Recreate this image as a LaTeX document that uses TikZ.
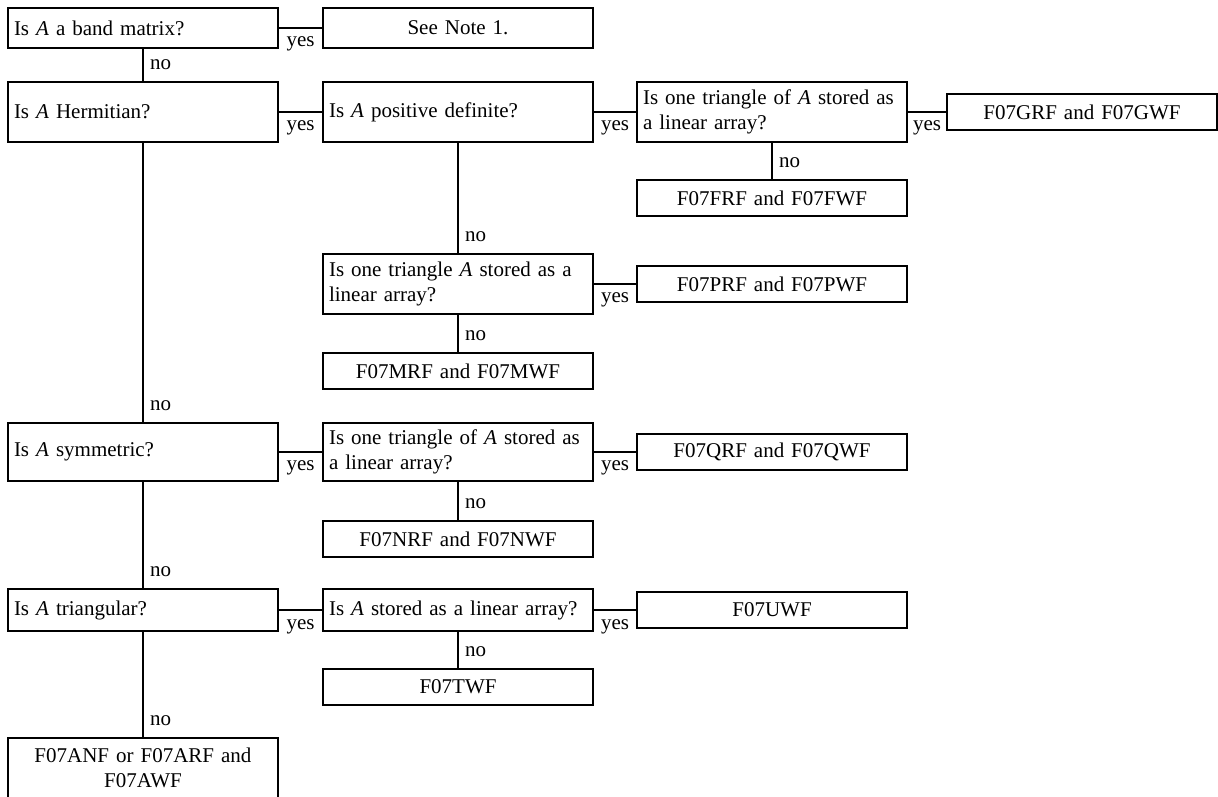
\documentclass[tikz,border=0pt]{standalone}
\usepackage{fontspec}
\setmainfont{Liberation Serif}[WordSpace=1.45]
\usetikzlibrary{positioning}

\begin{document}
\begin{tikzpicture}[line width=1.1pt, font=\fontsize{10.5pt}{12.6pt}\selectfont,
        ques/.style = {draw, text width=129pt, inner xsep=3pt, outer sep=0pt, align=left, minimum height=18pt},
        res/.style = {draw, text width=129pt, inner xsep=3pt, outer sep=0pt, align=center, minimum height=18pt},
        ylab/.style = {midway, below, inner sep=4pt},
        nlab/.style = {pos=1, anchor=south west, inner sep=3pt, yshift=2.6pt}]
        \useasboundingbox (0,0) rectangle (609pt,-398pt);

        \node[ques, minimum height=20pt, anchor=north west] (band) at (4pt,-4pt) {Is \textit{A} a band matrix?};
        \node[res, minimum height=20pt] (note) [right=22.5pt of band]      {See Note 1.};

        \node[ques, minimum height=30pt] (herm) [below=17pt of band]       {Is \textit{A} Hermitian?};
        \node[ques, minimum height=30pt] (posdef) [right=22.5pt of herm]   {Is \textit{A} positive definite?};
        \node[ques, minimum height=30pt] (tri1) [right=22pt of posdef]     {Is one triangle of \textit{A} stored as\\a linear array?};
        \node[res] (grf) [right=20pt of tri1]                              {F07GRF and F07GWF};
        \node[res] (frf) [below=19pt of tri1]                              {F07FRF and F07FWF};
        \node[ques, minimum height=30pt] (tri2) [below=56pt of posdef]     {Is one triangle \textit{A} stored as a\\linear array?};
        \node[res] (prf) [right=22pt of tri2]                              {F07PRF and F07PWF};
        \node[res] (mrf) [below=19.5pt of tri2]                            {F07MRF and F07MWF};

        \node[ques, minimum height=29pt] (sym) [below=140.5pt of herm]     {Is \textit{A} symmetric?};
        \node[ques, minimum height=29pt] (tri3) [right=22.5pt of sym]      {Is one triangle of \textit{A} stored as\\a linear array?};
        \node[res] (qrf) [right=22pt of tri3]                              {F07QRF and F07QWF};
        \node[res] (nrf) [below=20pt of tri3]                              {F07NRF and F07NWF};

        \node[ques, minimum height=21pt] (trian) [below=54pt of sym]       {Is \textit{A} triangular?};
        \node[ques, minimum height=21pt] (lin) [right=22.5pt of trian]     {Is \textit{A} stored as a linear array?};
        \node[res] (uwf) [right=22pt of lin]                               {F07UWF};
        \node[res] (twf) [below=19pt of lin]                               {F07TWF};
        \node[res, minimum height=30pt] (anf) [below=53.5pt of trian]      {F07ANF or F07ARF and\\F07AWF};

        \draw (band) -- node[ylab] {yes} (note);
        \draw (band) -- node[nlab] {no} (herm);
        \draw (herm) -- node[ylab] {yes} (posdef);
        \draw (posdef) -- node[ylab] {yes} (tri1);
        \draw (tri1) -- node[ylab] {yes} (grf);
        \draw (tri1) -- node[nlab] {no} (frf);
        \draw (posdef) -- node[nlab] {no} (tri2);
        \draw (tri2) -- node[ylab] {yes} (prf);
        \draw (tri2) -- node[nlab] {no} (mrf);
        \draw (herm) -- node[nlab] {no} (sym);
        \draw (sym) -- node[ylab] {yes} (tri3);
        \draw (tri3) -- node[ylab] {yes} (qrf);
        \draw (tri3) -- node[nlab] {no} (nrf);
        \draw (sym) -- node[nlab] {no} (trian);
        \draw (trian) -- node[ylab] {yes} (lin);
        \draw (lin) -- node[ylab] {yes} (uwf);
        \draw (lin) -- node[nlab] {no} (twf);
        \draw (trian) -- node[nlab] {no} (anf);

    \end{tikzpicture}
\end{document}
